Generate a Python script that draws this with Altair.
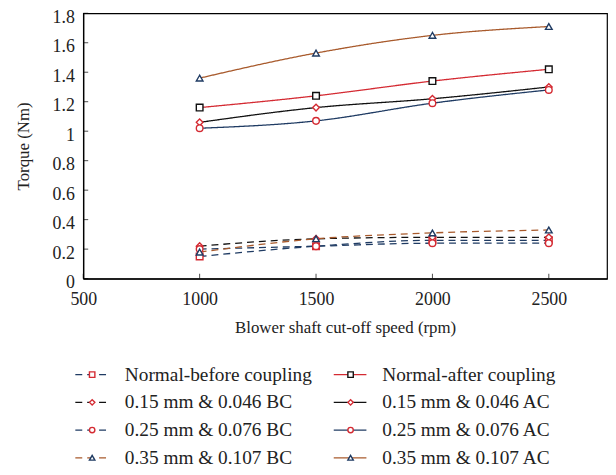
import altair as alt
import pandas as pd

speeds = [1000, 1500, 2000, 2500]

series_names = [
    "Normal-before coupling",
    "Normal-after coupling",
    "0.15 mm & 0.046  BC",
    "0.15 mm & 0.046  AC",
    "0.25 mm & 0.076  BC",
    "0.25 mm & 0.076  AC",
    "0.35 mm & 0.107  BC",
    "0.35 mm & 0.107  AC",
]

normal_bc = [0.15, 0.22, 0.26, 0.26]
normal_ac = [1.16, 1.24, 1.34, 1.42]
s015_bc = [0.22, 0.27, 0.28, 0.28]
s015_ac = [1.06, 1.16, 1.22, 1.30]
s025_bc = [0.20, 0.22, 0.24, 0.24]
s025_ac = [1.02, 1.07, 1.19, 1.28]
s035_bc = [0.18, 0.27, 0.31, 0.33]
s035_ac = [1.36, 1.53, 1.65, 1.71]

series_values = [normal_bc, normal_ac, s015_bc, s015_ac, s025_bc, s025_ac, s035_bc, s035_ac]

x_ticks = [500, 1000, 1500, 2000, 2500]
y_ticks = [0, 0.2, 0.4, 0.6, 0.8, 1, 1.2, 1.4, 1.6, 1.8]

RED = "#d42a32"
NAVY = "#1f3b63"
BROWN = "#a85a2c"
BLACK = "#111111"

line_colors = [NAVY, RED, BLACK, BLACK, NAVY, NAVY, BROWN, BROWN]
marker_colors = [RED, BLACK, RED, RED, RED, RED, NAVY, NAVY]
shapes = ["square", "square", "diamond", "diamond", "circle", "circle", "triangle-up", "triangle-up"]
dashes = [[7, 5] if i % 2 == 0 else [1, 0] for i in range(8)]

FONT = "Liberation Serif, DejaVu Serif, serif"

rows = []
for name, vals in zip(series_names, series_values):
    for s, v in zip(speeds, vals):
        rows.append({"series": name, "speed": s, "torque": v})
df = pd.DataFrame(rows)

leg = pd.DataFrame({
    "series": series_names,
    "col": [i % 2 for i in range(8)],
    "row": [i // 2 for i in range(8)],
})

color_scale = alt.Scale(domain=series_names, range=line_colors)
stroke_scale = alt.Scale(domain=series_names, range=marker_colors)
shape_scale = alt.Scale(domain=series_names, range=shapes)
dash_scale = alt.Scale(domain=series_names, range=dashes)

xs = alt.Scale(domain=[500, 2750], nice=False, zero=False)
ys = alt.Scale(domain=[0, 1.8], nice=False)

x_axis = alt.Axis(values=x_ticks, title="Blower shaft cut-off speed (rpm)",
                  grid=False, ticks=False, domainColor="black",
                  labelExpr="datum.value", labelOverlap=False,
                  labelPadding=12, titlePadding=11, labelFlush=False)
y_axis = alt.Axis(values=y_ticks, title="Torque (Nm)",
                  grid=False, ticks=False, domainColor="black",
                  labelExpr="datum.value", labelOverlap=False, labelOffset=4,
                  labelPadding=9, titlePadding=20, labelFlush=False)

lines = alt.Chart(df).mark_line(interpolate="monotone", strokeWidth=1.3).encode(
    x=alt.X("speed:Q", scale=xs, axis=x_axis),
    y=alt.Y("torque:Q", scale=ys, axis=y_axis),
    color=alt.Color("series:N", scale=color_scale, legend=None),
    strokeDash=alt.StrokeDash("series:N", scale=dash_scale, legend=None),
    detail="series:N",
)
points = alt.Chart(df).mark_point(fill="white", fillOpacity=1, opacity=1, strokeWidth=1.4, size=45).encode(
    x=alt.X("speed:Q", scale=xs, axis=x_axis),
    y=alt.Y("torque:Q", scale=ys, axis=y_axis),
    stroke=alt.Stroke("series:N", scale=stroke_scale, legend=None),
    shape=alt.Shape("series:N", scale=shape_scale, legend=None),
)

xt_df = pd.DataFrame({"speed": x_ticks})
yt_df = pd.DataFrame({"torque": y_ticks})
x_tick_marks = alt.Chart(xt_df).mark_tick(orient="vertical", size=5, yOffset=-2.5, color="black", thickness=1).encode(
    x=alt.X("speed:Q", scale=xs, axis=x_axis), y=alt.datum(0, scale=ys, axis=y_axis)
)
y_tick_marks = alt.Chart(yt_df).mark_tick(orient="horizontal", size=5, xOffset=2.5, color="black", thickness=1).encode(
    y=alt.Y("torque:Q", scale=ys, axis=y_axis), x=alt.datum(500, scale=xs, axis=x_axis)
)

main = alt.layer(lines, points, x_tick_marks, y_tick_marks).properties(
    width=529, height=268, view=alt.ViewBackground(stroke="black", strokeWidth=1.2)
)

lsc = alt.Scale(domain=[0, 529], nice=False, zero=False)
ly = alt.Y("row:Q", scale=alt.Scale(domain=[0, 3], nice=False, zero=False, reverse=True), axis=None)

leg_base = alt.Chart(leg).transform_calculate(
    x0="datum.col == 0 ? -8 : 253",
    x1="datum.col == 0 ? 27 : 286",
    xm="datum.col == 0 ? 9 : 270",
    xt="datum.col == 0 ? 42 : 302",
)
leg_lines = leg_base.mark_rule(strokeWidth=1.3).encode(
    x=alt.X("x0:Q", scale=lsc, axis=None), x2="x1:Q", y=ly,
    color=alt.Color("series:N", scale=color_scale, legend=None),
    strokeDash=alt.StrokeDash("series:N", scale=dash_scale, legend=None),
)
leg_pts = leg_base.mark_point(fill="white", fillOpacity=1, opacity=1, strokeWidth=1.4, size=30).encode(
    x=alt.X("xm:Q", scale=lsc, axis=None), y=ly,
    stroke=alt.Stroke("series:N", scale=stroke_scale, legend=None),
    shape=alt.Shape("series:N", scale=shape_scale, legend=None),
)
leg_text = leg_base.mark_text(align="left", baseline="middle", font=FONT, fontSize=19.5, color="#222").encode(
    x=alt.X("xt:Q", scale=lsc, axis=None), y=ly,
    text="series:N",
)
legend = alt.layer(leg_lines, leg_pts, leg_text).properties(
    width=529, height=84, view=alt.ViewBackground(stroke=None)
)

chart = alt.vconcat(main, legend, spacing=29).resolve_scale(
    x="independent", y="independent"
).configure_view(
    stroke=None
).configure_axis(
    labelFont=FONT, titleFont=FONT, labelFontSize=18, titleFontSize=17,
    labelColor="#222", titleColor="#222", titleFontWeight="normal", domainWidth=1.2,
).properties(padding={"left": 5, "top": -3, "right": 0, "bottom": 0})

chart.save("out.html", embed_options={"renderer": "svg", "actions": False})
